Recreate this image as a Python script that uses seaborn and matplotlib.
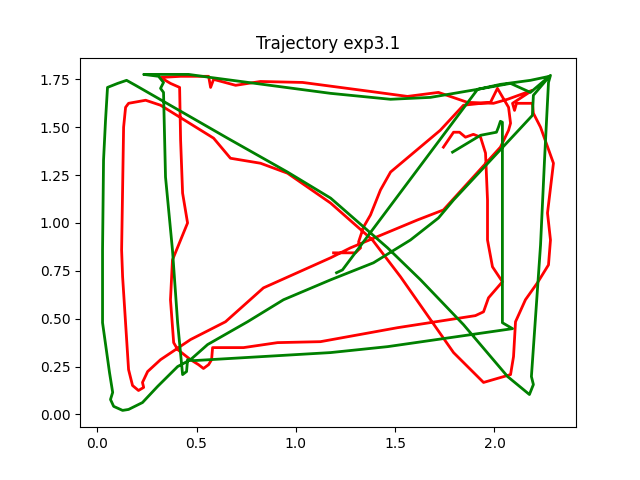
import matplotlib
matplotlib.use("Agg")
import matplotlib.pyplot as plt
import seaborn as sns

# red trajectory (x, y), in path order
red_x = [1.743, 1.794, 1.824, 1.854, 1.894, 1.930, 1.955, 1.965, 1.965, 1.990,
         2.040, 1.970, 1.945, 1.904, 1.512, 1.124, 0.908, 0.737, 0.581, 0.576,
         0.561, 0.535, 0.510, 0.470, 0.405, 0.385, 0.369, 0.379, 0.420, 0.455,
         0.430, 0.420, 0.415, 0.369, 0.319, 0.420, 0.561, 0.571, 0.586, 0.697,
         0.822, 1.034, 1.376, 1.562, 1.718, 1.864, 1.995, 2.066, 2.191, 2.091,
         2.101, 2.111, 2.191, 2.196, 2.232, 2.297, 2.267, 2.282, 2.272, 2.216,
         2.156, 2.106, 2.096, 2.081, 1.945, 1.794, 1.527, 1.386, 1.175, 0.958,
         0.822, 0.671, 0.586, 0.319, 0.244, 0.158, 0.143, 0.133, 0.123, 0.128,
         0.158, 0.178, 0.208, 0.234, 0.228, 0.254, 0.319, 0.470, 0.646, 0.837,
         1.175, 1.275, 1.613, 1.743, 2.030, 2.071, 2.081, 2.071, 2.015, 1.980,
         1.844, 1.727, 1.477, 1.426, 1.376, 1.341, 1.316, 1.326, 1.300, 1.190]
red_y = [1.396, 1.474, 1.474, 1.448, 1.463, 1.448, 1.365, 1.120, 0.911, 0.771,
         0.693, 0.609, 0.536, 0.516, 0.453, 0.380, 0.375, 0.349, 0.349, 0.286,
         0.260, 0.240, 0.260, 0.286, 0.339, 0.375, 0.599, 0.807, 0.911, 1.000,
         1.156, 1.432, 1.708, 1.729, 1.760, 1.766, 1.766, 1.708, 1.750, 1.719,
         1.739, 1.734, 1.687, 1.661, 1.682, 1.630, 1.625, 1.646, 1.693, 1.625,
         1.588, 1.625, 1.625, 1.573, 1.500, 1.312, 1.052, 0.911, 0.781, 0.687,
         0.599, 0.484, 0.302, 0.208, 0.167, 0.323, 0.719, 0.911, 1.104, 1.260,
         1.312, 1.338, 1.443, 1.615, 1.641, 1.625, 1.604, 1.500, 0.859, 0.719,
         0.234, 0.151, 0.125, 0.141, 0.167, 0.224, 0.286, 0.391, 0.484, 0.661,
         0.818, 0.870, 1.016, 1.068, 1.396, 1.484, 1.521, 1.604, 1.703, 1.630,
         1.615, 1.484, 1.266, 1.172, 1.042, 0.979, 0.901, 0.870, 0.844, 0.844]

# green trajectory (x, y), in path order
green_x = [1.205, 1.235, 1.915, 2.081, 2.181, 2.282, 2.272, 2.252, 2.232, 2.186,
           2.196, 2.176, 2.066, 1.844, 1.628, 1.462, 1.175, 0.958, 0.656, 0.193,
           0.148, 0.103, 0.052, 0.042, 0.032, 0.027, 0.027, 0.062, 0.078, 0.067,
           0.083, 0.128, 0.158, 0.228, 0.304, 0.405, 0.470, 0.556, 0.757, 0.938,
           1.175, 1.391, 1.577, 1.718, 1.794, 2.131, 2.191, 2.196, 2.277, 2.181,
           2.030, 1.915, 1.678, 1.477, 1.175, 0.571, 0.460, 0.234, 0.309, 0.334,
           0.319, 0.334, 0.344, 0.379, 0.405, 0.430, 0.450, 0.455, 0.485, 1.175,
           1.462, 2.091, 2.040, 2.040, 2.040, 2.030, 2.020, 2.010, 1.930, 1.789]
green_y = [0.740, 0.755, 1.698, 1.729, 1.682, 1.771, 1.734, 1.328, 0.885, 0.198,
           0.156, 0.104, 0.198, 0.469, 0.703, 0.870, 1.130, 1.266, 1.443, 1.719,
           1.745, 1.729, 1.708, 1.536, 1.328, 0.859, 0.479, 0.219, 0.115, 0.078,
           0.042, 0.021, 0.026, 0.062, 0.146, 0.250, 0.286, 0.365, 0.484, 0.599,
           0.703, 0.792, 0.911, 1.026, 1.120, 1.495, 1.562, 1.667, 1.766, 1.745,
           1.724, 1.698, 1.656, 1.646, 1.677, 1.760, 1.776, 1.776, 1.766, 1.734,
           1.703, 1.682, 1.240, 0.859, 0.479, 0.208, 0.224, 0.286, 0.281, 0.323,
           0.354, 0.448, 0.479, 0.911, 1.526, 1.531, 1.500, 1.474, 1.458, 1.370]

fig, ax = plt.subplots(figsize=(6.4, 4.8), dpi=100)

sns.lineplot(x=red_x, y=red_y, sort=False, estimator=None, color="red", lw=2, ax=ax)
sns.lineplot(x=green_x, y=green_y, sort=False, estimator=None, color="green", lw=2, ax=ax)

ax.set_title("Trajectory exp3.1")
ax.set_xticks([0.0, 0.5, 1.0, 1.5, 2.0])
ax.set_yticks([0.0, 0.25, 0.5, 0.75, 1.0, 1.25, 1.5, 1.75])

fig.savefig("out.png")
